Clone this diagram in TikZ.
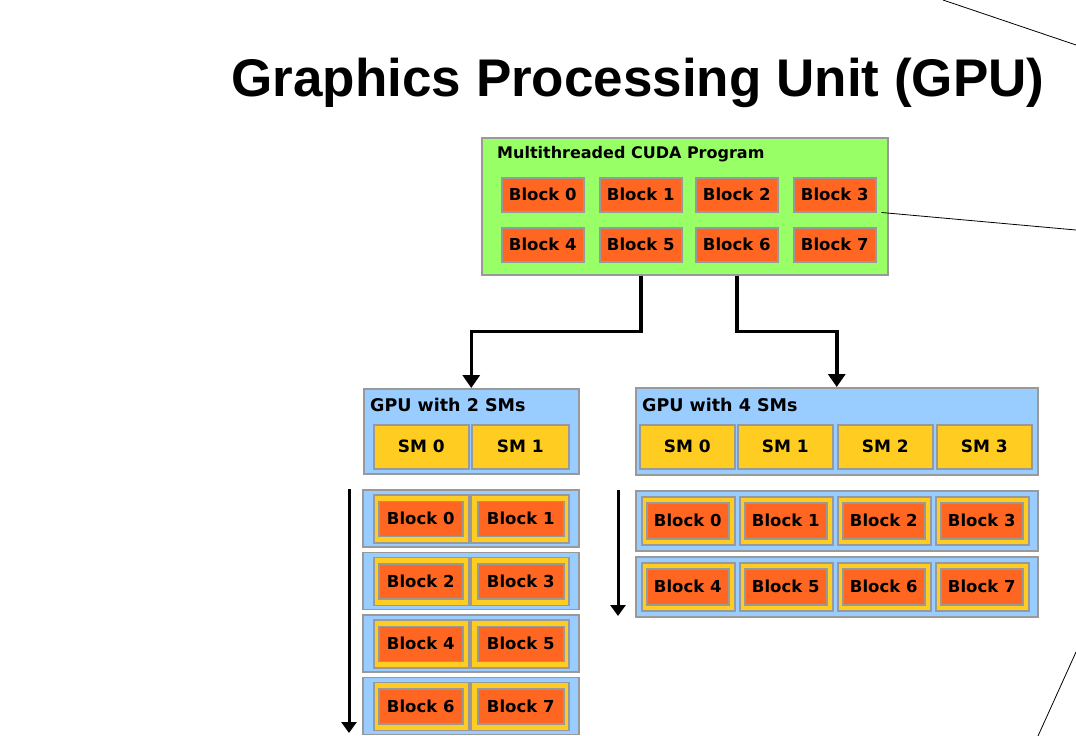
\documentclass[tikz,border=0pt]{standalone}
\usepackage{fontspec}
\setmainfont{DejaVu Sans}
\newfontfamily\titlefont{Liberation Sans}
\usepackage{xcolor}
\usetikzlibrary{arrows.meta,positioning}

\definecolor{progfill}{HTML}{99FF66}
\definecolor{blkfill}{HTML}{FF6622}
\definecolor{smfill}{HTML}{FFCC22}
\definecolor{gpufill}{HTML}{99CCFF}
\definecolor{edgegray}{HTML}{999999}

\begin{document}
\begin{tikzpicture}[
    x=1pt, y=-1pt,
    font=\bfseries\fontsize{16.5}{18}\selectfont,
    area/.style={draw=edgegray, line width=1.5pt, anchor=north west, inner sep=0pt},
    prog/.style={area, fill=progfill},
    gpu/.style={area, fill=gpufill},
    sm/.style={area, fill=smfill, font=\bfseries\fontsize{17}{19}\selectfont},
    blk/.style={area, fill=blkfill},
    label/.style={anchor=west, inner sep=0pt, font=\bfseries\fontsize{17.5}{19}\selectfont},
    flow/.style={-{Triangle[length=13pt,width=17pt]}, line width=3.5pt},
    time/.style={-{Triangle[length=11pt,width=15pt]}, line width=3pt},
    guide/.style={line width=0.8pt}
]
\useasboundingbox (0,0) rectangle (1076,736);

% title
\node[font=\titlefont\bfseries\fontsize{53}{60}\selectfont, anchor=base, inner sep=0pt] (title) at (638,96) {Graphics Processing Unit (GPU)};

% the CUDA program
\node[prog, minimum width=406pt, minimum height=137pt] (prog) at (481,137) {};
\node[label, font=\bfseries\fontsize{16}{18}\selectfont] (progname) at (497,154) {Multithreaded CUDA Program};
\foreach \i/\x/\y in {0/501/177, 1/599/177, 2/695/177, 3/793/177,
                      4/501/227, 5/599/227, 6/695/227, 7/793/227}
  \node[blk, minimum width=82pt, minimum height=34pt] (p\i) at (\x,\y) {Block \i};

% GPU with 2 SMs
\node[gpu, minimum width=215pt, minimum height=85pt] (gpu2) at (363,388) {};
\node[label] (gpu2name) at (370,405) {GPU with 2 SMs};
\node[sm, minimum width=95pt, minimum height=44pt] (a0) at (373,424) {SM 0};
\node[sm, minimum width=97pt, minimum height=44pt] (a1) at (471,424) {SM 1};

\foreach \r in {0,...,3} {
  \pgfmathsetmacro{\ry}{489+62.5*\r}
  \pgfmathtruncatemacro{\ba}{2*\r}
  \pgfmathtruncatemacro{\bb}{2*\r+1}
  \node[gpu, minimum width=216pt, minimum height=57pt] (ar\r) at (362,\ry) {};
  \node[sm, minimum width=95pt, minimum height=48pt] at (373,\ry+5) {};
  \node[sm, minimum width=98pt, minimum height=48pt] at (470,\ry+5) {};
  \node[blk, minimum width=84pt, minimum height=35pt] (ab\ba) at (378,\ry+11.5) {Block \ba};
  \node[blk, minimum width=86pt, minimum height=35pt] (ab\bb) at (477,\ry+11.5) {Block \bb};
}

% GPU with 4 SMs
\node[gpu, minimum width=402pt, minimum height=87pt] (gpu4) at (635,387) {};
\node[label] (gpu4name) at (642,405) {GPU with 4 SMs};
\foreach \c/\x in {0/639, 1/737, 2/837, 3/936}
  \node[sm, minimum width=95pt, minimum height=44pt] (s\c) at (\x,424) {SM \c};

\foreach \r/\ry in {0/490, 1/556} {
  \node[gpu, minimum width=402pt, minimum height=60pt] (sr\r) at (635,\ry) {};
  \foreach \c in {0,...,3} {
    \pgfmathtruncatemacro{\b}{4*\r+\c}
    \pgfmathsetmacro{\cx}{641+98*\c}
    \node[sm, minimum width=93pt, minimum height=48pt] at (\cx,\ry+6) {};
    \node[blk, minimum width=82pt, minimum height=36pt] (sb\b) at (\cx+5,\ry+12) {Block \b};
  }
}

% scheduling of the blocks
\draw[flow] (prog.south -| p1) -- ++(0,56) -| (gpu2.north);
\draw[flow] (prog.south -| p2) -- ++(0,56) -| (gpu4.north);

% time
\coordinate (t2top) at (349,489);
\coordinate (t2end) at (349,733);
\coordinate (t4top) at (618,490);
\coordinate (t4end) at (618,616);
\draw[time] (t2top) -- (t2end);
\draw[time] (t4top) -- (t4end);

% lines to the rest of the slide
\coordinate (g1a) at (943,0);
\coordinate (g1b) at (1076,45);
\coordinate (g2b) at (1076,230);
\coordinate (g3a) at (1076,652);
\coordinate (g3b) at (1038,736);
\draw[guide] (g1a) -- (g1b);
\draw[guide] ([xshift=5pt]p3.south east) -- (g2b);
\draw[guide] (g3a) -- (g3b);
\end{tikzpicture}
\end{document}
